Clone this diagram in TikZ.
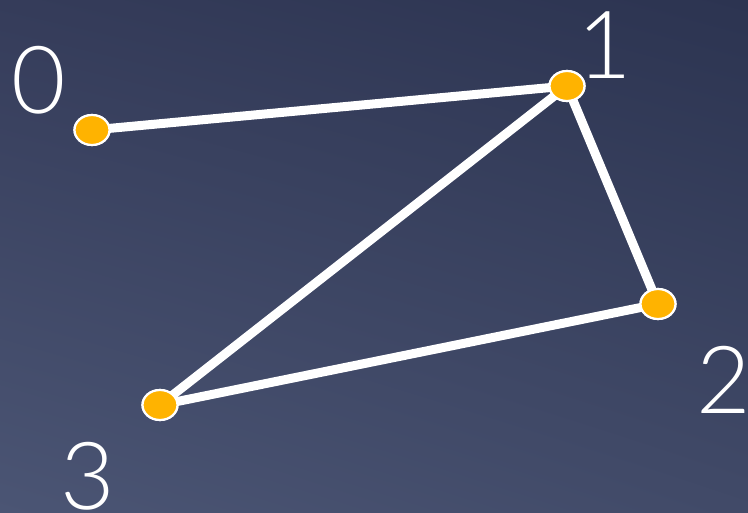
\documentclass[tikz,border=0pt]{standalone}
\usepackage{fontspec}
\setmainfont{Open Sans}
\newfontfamily\digitfont{Lato}[UprightFont=* Light]
\usetikzlibrary{shapes.geometric,shadings}
\definecolor{bgUL}{HTML}{353C5A}
\definecolor{bgUR}{HTML}{2C3451}
\definecolor{bgLL}{HTML}{4B5574}
\definecolor{bgLR}{HTML}{414A68}
\definecolor{vert}{HTML}{FFB300}
\begin{document}
\begin{tikzpicture}[x=1pt,y=-1pt,
  vtx/.style={ellipse,fill=vert,draw=white,line width=2.2pt,minimum width=35pt,minimum height=30pt,inner sep=0pt},
  lbl/.style={text=white,font=\digitfont\fontsize{94}{94}\selectfont,inner sep=0pt},
  edge/.style={draw=white,line width=9pt}]
\shade[upper left=bgUL,upper right=bgUR,lower left=bgLL,lower right=bgLR] (0,0) rectangle (748,513);
\useasboundingbox (0,0) rectangle (748,513);
\node[vtx] (v0) at (92,130) {};
\node[vtx] (v1) at (567,86) {};
\node[vtx] (v2) at (658,304) {};
\node[vtx] (v3) at (160,405) {};
\path[edge] (v0.center) -- (v1.center);
\path[edge] (v1.center) -- (v2.center);
\path[edge] (v2.center) -- (v3.center);
\path[edge] (v3.center) -- (v1.center);
\node[vtx] at (v0) {};
\node[vtx] at (v1) {};
\node[vtx] at (v2) {};
\node[vtx] at (v3) {};
\node[lbl] (l0) at (39,80) {0};
\node[lbl] (l1) at (605,45) {1};
\node[lbl] (l2) at (724,380) {2};
\node[lbl] (l3) at (88,476) {3};
\end{tikzpicture}
\end{document}
